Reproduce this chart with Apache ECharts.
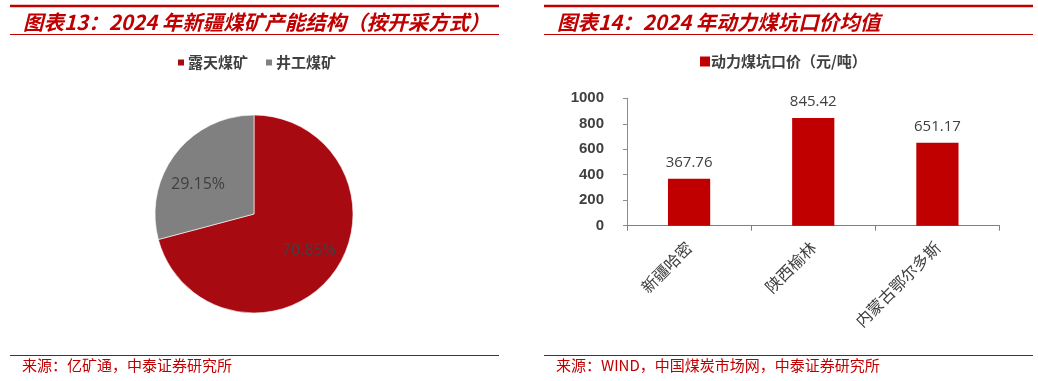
<!DOCTYPE html>
<html>
<head>
<meta charset="utf-8">
<script src="https://cdn.jsdelivr.net/npm/echarts@6/dist/echarts.min.js"></script>
<style>
html,body{margin:0;padding:0;background:#fff;}
#c{width:1038px;height:381px;}
</style>
</head>
<body>
<div id="c"></div>
<script>
// ---- data ----
const pieNames = ['露天煤矿', '井工煤矿'];
const pieValues = [70.85, 29.15];
const barCategories = ['新疆哈密', '陕西榆林', '内蒙古鄂尔多斯'];
const barValues = [367.76, 845.42, 651.17];
const barSeriesName = '动力煤坑口价（元/吨）';
const yTicks = [0, 200, 400, 600, 800, 1000];
const leftTitle = '图表13：2024 年新疆煤矿产能结构（按开采方式）';
const rightTitle = '图表14：2024 年动力煤坑口价均值';
const leftSource = '来源：亿矿通，中泰证券研究所';
const rightSource = '来源：WIND，中国煤炭市场网，中泰证券研究所';

const RED = '#C00000';
const PIE_RED = '#A80A12';
const GRAY = '#808080';
const TXT = '#404040';
const CJK = '"Noto Sans CJK SC", sans-serif';

const chart = echarts.init(document.getElementById('c'), null, {renderer: 'canvas'});

const titleStyle = {color: RED, fontSize: 20.5, fontWeight: 'bold', fontStyle: 'italic', fontFamily: CJK};
const srcStyle = {color: RED, fontSize: 15, fontWeight: 'normal', fontFamily: CJK};

function hline(x1, x2, y, w) {
  return {type: 'line', shape: {x1: x1, y1: y, x2: x2, y2: y}, style: {stroke: RED, lineWidth: w}, silent: true};
}

chart.setOption({
  animation: false,
  backgroundColor: '#fff',
  title: [
    {text: leftTitle, left: 23, top: 12, padding: 0, textStyle: titleStyle},
    {text: rightTitle, left: 557, top: 12, padding: 0, textStyle: titleStyle},
    {text: leftSource, left: 22, top: 358, padding: 0, textStyle: srcStyle},
    {text: rightSource, left: 556, top: 358, padding: 0, textStyle: srcStyle}
  ],
  graphic: [
    hline(10, 499, 6, 2.5),
    hline(10, 499, 34.5, 1),
    hline(10, 499, 355.5, 1),
    hline(544, 1033, 6, 2.5),
    hline(544, 1033, 34.5, 1),
    hline(544, 1033, 355.5, 1)
  ],
  legend: [
    {
      left: 176, top: 55, padding: 0, itemWidth: 8, itemHeight: 8, itemGap: 16,
      icon: 'rect',
      data: [
        {name: pieNames[0], itemStyle: {color: PIE_RED}},
        {name: pieNames[1], itemStyle: {color: GRAY}}
      ],
      textStyle: {color: TXT, fontSize: 15, fontWeight: 'bold', fontFamily: CJK, padding: [0, 0, 0, -2]}
    },
    {
      left: 700, top: 54, padding: 0, itemWidth: 10, itemHeight: 10,
      icon: 'rect',
      data: [{name: barSeriesName, itemStyle: {color: RED}}],
      textStyle: {color: TXT, fontSize: 15, fontWeight: 'bold', fontFamily: CJK, padding: [0, 0, 0, -4]}
    }
  ],
  grid: {left: 627, right: 38.5, top: 98.3, bottom: 155.3, containLabel: false},
  xAxis: {
    type: 'category',
    data: barCategories,
    boundaryGap: true,
    axisLine: {show: true, lineStyle: {color: '#7f7f7f', width: 1}},
    axisTick: {show: true, length: 5, inside: false, alignWithLabel: false, lineStyle: {color: '#7f7f7f'}},
    axisLabel: {rotate: 45, margin: 19, fontSize: 16, color: TXT, fontFamily: CJK, interval: 0}
  },
  yAxis: {
    type: 'value',
    min: yTicks[0],
    max: yTicks[yTicks.length - 1],
    interval: yTicks[1] - yTicks[0],
    splitLine: {show: false},
    axisLine: {show: true, lineStyle: {color: '#8c8c8c', width: 1}},
    axisTick: {show: true, length: 4, inside: false, lineStyle: {color: '#8c8c8c'}},
    axisLabel: {
      margin: 23, fontSize: 15, fontWeight: 'bold', color: TXT,
      fontFamily: '"Liberation Sans", Arial, sans-serif',
      formatter: v => String(v)
    }
  },
  series: [
    {
      type: 'pie',
      name: 'pie',
      center: [254, 214],
      radius: [0, 99],
      startAngle: 90,
      clockwise: true,
      silent: true,
      label: {show: false},
      labelLine: {show: false},
      itemStyle: {borderColor: '#fff', borderWidth: 0.6},
      data: pieNames.map((n, i) => ({name: n, value: pieValues[i], itemStyle: {color: i === 0 ? PIE_RED : GRAY}}))
    },
    {
      type: 'pie',
      name: 'pieLabels',
      center: [254, 214],
      radius: [26, 99],
      startAngle: 90,
      clockwise: true,
      silent: true,
      itemStyle: {color: 'rgba(0,0,0,0)'},
      label: {show: true, position: 'inside', formatter: '{c}%', fontSize: 16, color: TXT, fontFamily: '"Open Sans", sans-serif'},
      labelLine: {show: false},
      labelLayout: p => (p.dataIndex === 1 ? {dx: -4, dy: 10} : {dx: 3, dy: -3}),
      data: pieNames.map((n, i) => ({name: n, value: pieValues[i]}))
    },
    {
      type: 'bar',
      name: barSeriesName,
      data: barValues,
      barWidth: '34%',
      itemStyle: {color: RED},
      label: {show: true, position: 'top', distance: 9, fontSize: 15, color: TXT, fontFamily: '"Open Sans", sans-serif'}
    }
  ]
});
</script>
</body>
</html>
